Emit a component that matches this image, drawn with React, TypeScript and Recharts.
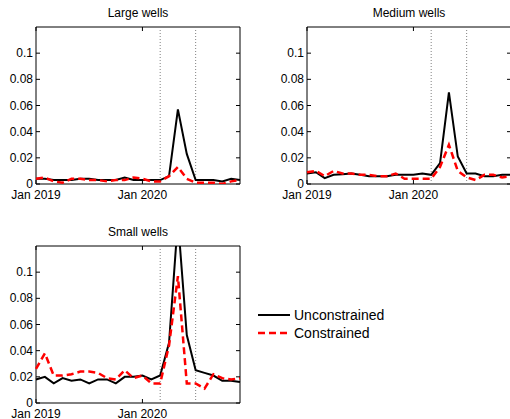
import React from "react";
import { LineChart, Line, XAxis, YAxis, ReferenceLine, ReferenceArea } from "recharts";

// monthly, Jan 2019 .. Dec 2020
const MONTHS = [
  "Jan 2019", "Feb 2019", "Mar 2019", "Apr 2019", "May 2019", "Jun 2019",
  "Jul 2019", "Aug 2019", "Sep 2019", "Oct 2019", "Nov 2019", "Dec 2019",
  "Jan 2020", "Feb 2020", "Mar 2020", "Apr 2020", "May 2020", "Jun 2020",
  "Jul 2020", "Aug 2020", "Sep 2020", "Oct 2020", "Nov 2020", "Dec 2020",
];
const X_TICKS = [0, 12];
const Y_TICKS = [0, 0.02, 0.04, 0.06, 0.08, 0.1];
const Y_MAX = 0.12;
const EVENT_MONTHS = [14, 18];
const SERIES_NAMES = ["Unconstrained", "Constrained"];

const largeUnc = [0.004, 0.004, 0.003, 0.003, 0.003, 0.004, 0.004, 0.003, 0.003, 0.003, 0.005, 0.003, 0.003, 0.003, 0.003, 0.006, 0.057, 0.023, 0.003, 0.003, 0.003, 0.002, 0.004, 0.003];
const largeCon = [0.004, 0.005, 0.002, 0.001, 0.004, 0.004, 0.003, 0.003, 0.002, 0.003, 0.003, 0.005, 0.004, 0.002, 0.002, 0.006, 0.013, 0.004, 0.001, 0.001, 0.001, 0.0, 0.002, 0.003];

const mediumUnc = [0.008, 0.009, 0.0045, 0.007, 0.0075, 0.008, 0.007, 0.006, 0.006, 0.006, 0.007, 0.007, 0.007, 0.008, 0.007, 0.016, 0.07, 0.021, 0.008, 0.008, 0.006, 0.006, 0.007, 0.007];
const mediumCon = [0.009, 0.01, 0.006, 0.01, 0.008, 0.008, 0.007, 0.007, 0.006, 0.006, 0.008, 0.004, 0.004, 0.004, 0.004, 0.013, 0.03, 0.01, 0.005, 0.003, 0.007, 0.007, 0.005, 0.006];

const smallUnc = [0.018, 0.02, 0.015, 0.019, 0.017, 0.018, 0.015, 0.018, 0.018, 0.015, 0.02, 0.02, 0.021, 0.018, 0.021, 0.046, 0.14, 0.052, 0.025, 0.023, 0.021, 0.017, 0.017, 0.016];
const smallCon = [0.026, 0.038, 0.021, 0.021, 0.022, 0.024, 0.024, 0.023, 0.019, 0.018, 0.025, 0.019, 0.021, 0.015, 0.015, 0.044, 0.097, 0.015, 0.015, 0.011, 0.022, 0.019, 0.018, 0.019];

const FONT = "'Liberation Sans', Arial, Helvetica, sans-serif";
const AXIS_W = 36;
const AXIS_H = 18;
const TOP = 27;
const PLOT_W = 204;
const PLOT_H = 157;
const TICK = 4;

const fmtY = (v: number) => (v === 0 ? "0" : String(v));

function Panel({ title, left, top, width, unc, con }: any) {
  const data = MONTHS.map((m, i) => ({ i, month: m, unc: unc[i], con: con[i] }));
  const x0 = AXIS_W;
  const x1 = AXIS_W + PLOT_W;
  const y0 = TOP;
  const y1 = TOP + PLOT_H;

  const yTick = (p: any) => {
    const y = p.y;
    return (
      <g>
        <text x={x0 - 3} y={y} textAnchor="end" dominantBaseline="central" fontSize={12} fontFamily={FONT} fill="#000">
          {fmtY(p.payload.value)}
        </text>
        <line x1={x0} x2={x0 + TICK} y1={y} y2={y} stroke="#000" />
        <line x1={x1 - TICK} x2={x1} y1={y} y2={y} stroke="#000" />
      </g>
    );
  };

  const xTick = (p: any) => {
    const x = p.x;
    return (
      <g>
        <text x={x} y={y1 + 15} textAnchor="middle" fontSize={12} fontFamily={FONT} fill="#000">
          {MONTHS[p.payload.value]}
        </text>
        <line x1={x} x2={x} y1={y1} y2={y1 - TICK} stroke="#000" />
        <line x1={x} x2={x} y1={y0} y2={y0 + TICK} stroke="#000" />
      </g>
    );
  };

  return (
    <div style={{ position: "absolute", left, top, width, height: TOP + PLOT_H + AXIS_H }}>
      <div
        style={{
          position: "absolute",
          left: x0,
          width: PLOT_W,
          top: y0 - 21,
          textAlign: "center",
          fontSize: 12,
          lineHeight: "14px",
          fontFamily: FONT,
          color: "#000",
        }}
      >
        {title}
      </div>
      <LineChart
        width={width}
        height={TOP + PLOT_H + AXIS_H}
        data={data}
        margin={{ top: TOP, right: width - AXIS_W - PLOT_W, bottom: 0, left: 0 }}
      >
        <XAxis
          dataKey="i"
          type="number"
          domain={[0, MONTHS.length - 1]}
          ticks={X_TICKS}
          interval={0}
          tick={xTick}
          tickLine={false}
          axisLine={false}
          height={AXIS_H}
        />
        <YAxis
          type="number"
          domain={[0, Y_MAX]}
          ticks={Y_TICKS}
          interval={0}
          allowDataOverflow
          tick={yTick}
          tickLine={false}
          axisLine={false}
          width={AXIS_W}
        />
        {EVENT_MONTHS.map((m) => (
          <ReferenceLine key={m} x={m} stroke="#808080" strokeDasharray="1 2" strokeWidth={1} />
        ))}
        <Line
          type="linear"
          dataKey="unc"
          name={SERIES_NAMES[0]}
          stroke="#000"
          strokeWidth={2}
          dot={false}
          activeDot={false}
          isAnimationActive={false}
        />
        <Line
          type="linear"
          dataKey="con"
          name={SERIES_NAMES[1]}
          stroke="#ff0000"
          strokeWidth={2.5}
          strokeDasharray="7 4"
          dot={false}
          activeDot={false}
          isAnimationActive={false}
        />
        <ReferenceArea
          x1={0}
          x2={MONTHS.length - 1}
          y1={0}
          y2={Y_MAX}
          fill="none"
          fillOpacity={0}
          stroke="#000"
          strokeWidth={1}
        />
      </LineChart>
    </div>
  );
}

export default function App() {
  return (
    <div
      style={{
        position: "absolute",
        left: 0,
        top: 0,
        width: 510,
        height: 419,
        overflow: "hidden",
        background: "#fff",
      }}
    >
      <Panel title="Large wells" left={0} top={0} width={250} unc={largeUnc} con={largeCon} />
      <Panel title="Medium wells" left={271} top={0} width={240} unc={mediumUnc} con={mediumCon} />
      <Panel title="Small wells" left={0} top={219} width={250} unc={smallUnc} con={smallCon} />
      <svg style={{ position: "absolute", left: 250, top: 300 }} width={160} height={45}>
        <line x1={8} x2={40} y1={15} y2={15} stroke="#000" strokeWidth={2} />
        <text x={44} y={15} dominantBaseline="central" fontSize={14} fontFamily={FONT} fill="#000">
          {SERIES_NAMES[0]}
        </text>
        <line x1={8} x2={40} y1={33} y2={33} stroke="#ff0000" strokeWidth={2.5} strokeDasharray="7 4" />
        <text x={44} y={33} dominantBaseline="central" fontSize={14} fontFamily={FONT} fill="#000">
          {SERIES_NAMES[1]}
        </text>
      </svg>
    </div>
  );
}
